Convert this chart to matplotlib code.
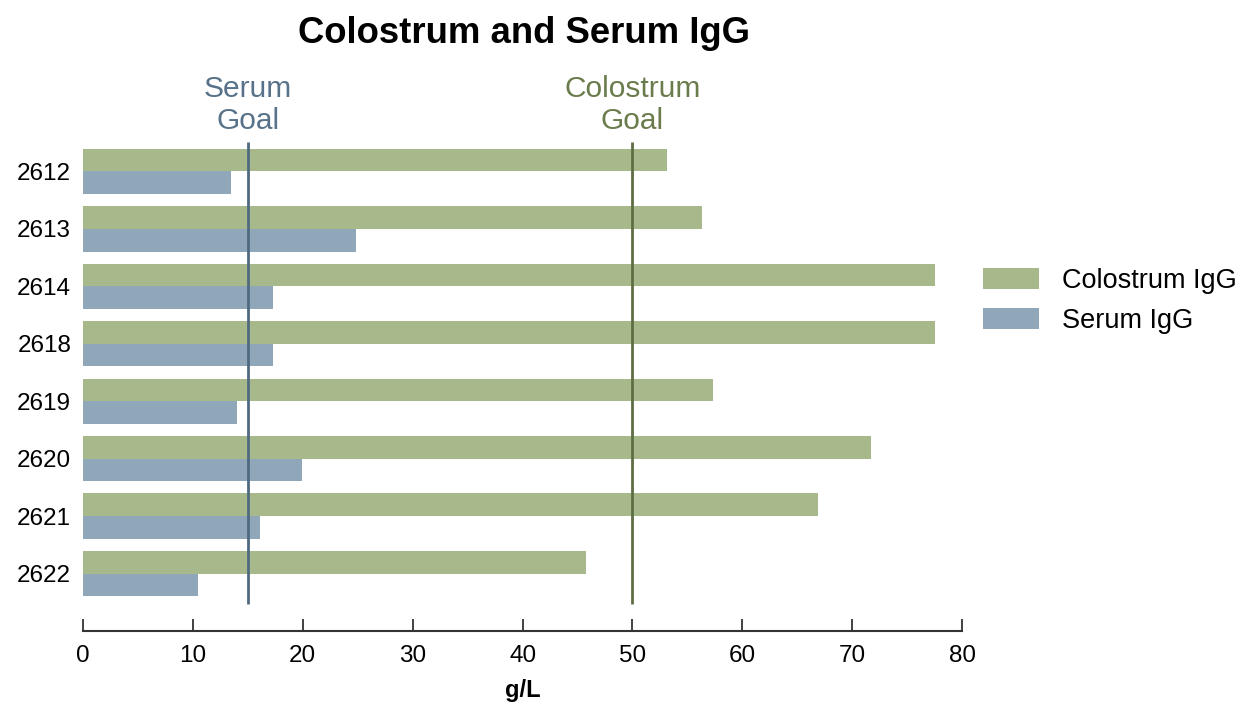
import matplotlib
matplotlib.use("Agg")
import matplotlib.pyplot as plt
import numpy as np

plt.rcParams['font.family'] = ['Liberation Sans', 'DejaVu Sans']

# Data
cows = ['2612', '2613', '2614', '2618', '2619', '2620', '2621', '2622']
colostrum_igg = [53.1, 56.3, 77.5, 77.5, 57.3, 71.7, 66.9, 45.8]
serum_igg = [13.5, 24.8, 17.3, 17.3, 14.0, 19.9, 16.1, 10.5]
serum_goal = 15
colostrum_goal = 50
xticks = [0, 10, 20, 30, 40, 50, 60, 70, 80]

green = '#a7b88a'
blue = '#8fa7b8'
green_line = '#5e6e44'
blue_line = '#4f6a80'

fig = plt.figure(figsize=(12.41, 7.07), dpi=100)
ax = fig.add_axes([0.0669, 0.1075, 0.7084, 0.6917])

y = np.arange(len(cows))
h = 0.395
ax.barh(y - h / 2, colostrum_igg, height=h, color=green, label='Colostrum IgG')
ax.barh(y + h / 2, serum_igg, height=h, color=blue, label='Serum IgG')

# goal lines
ax.vlines(serum_goal, -0.514, 7.535, color=blue_line, lw=2)
ax.vlines(colostrum_goal, -0.514, 7.535, color=green_line, lw=2)

ax.set_xlim(0, 80)
ax.set_ylim(8.0, -0.514)
ax.set_yticks(y)
ax.set_yticklabels(cows)
ax.set_xticks(xticks)

for s in ['top', 'right', 'left']:
    ax.spines[s].set_visible(False)
ax.spines['bottom'].set_color('#333333')
ax.spines['bottom'].set_linewidth(1.5)
ax.tick_params(axis='y', length=0, pad=8.5, labelsize=17.5)
ax.tick_params(axis='x', direction='in', length=9, width=1.3, color='#333333',
               pad=10, labelsize=17.5)

ax.set_xlabel('g/L', fontsize=17, fontweight='bold', labelpad=9)

# goal labels
ax.text(serum_goal, -0.64, 'Serum\nGoal', ha='center', va='bottom', fontsize=21.5,
        color='#587389', linespacing=1.15)
ax.text(colostrum_goal, -0.64, 'Colostrum\nGoal', ha='center', va='bottom', fontsize=21.5,
        color='#6a7b4c', linespacing=1.15)

fig.text(0.4226, 0.953, 'Colostrum and Serum IgG', ha='center', va='center',
         fontsize=26.3, fontweight='bold')

ax.legend(loc='center left', bbox_to_anchor=(1.008, 0.675), frameon=False, fontsize=19.5,
          borderpad=0, handlelength=2.07, handleheight=0.83, handletextpad=0.85,
          labelspacing=0.5)

fig.savefig('out.png', dpi=100)
